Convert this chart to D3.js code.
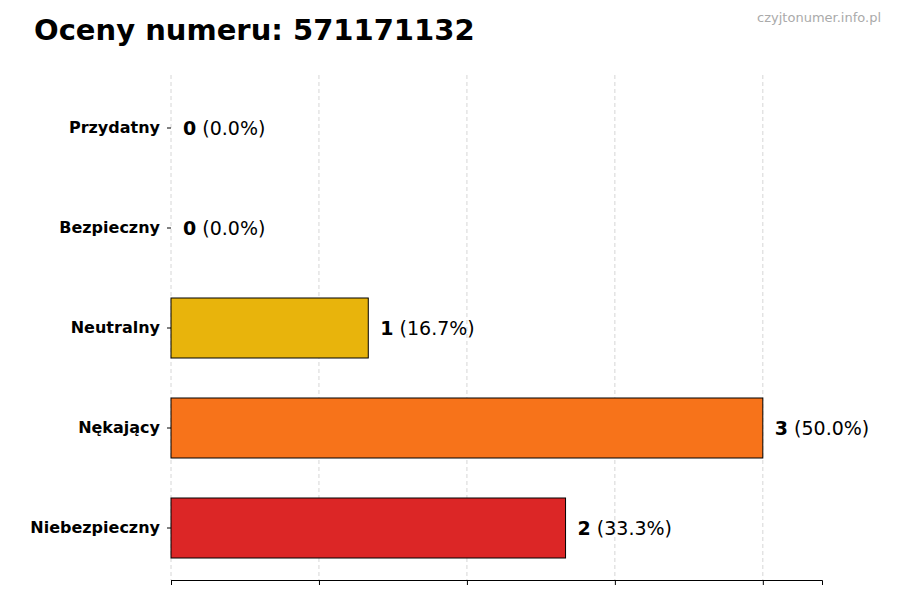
<!DOCTYPE html>
<html><head><meta charset="utf-8">
<script src="https://cdn.jsdelivr.net/npm/d3@7"></script>
<style>body{margin:0;background:#fff;font-family:"DejaVu Sans",sans-serif}</style>
</head><body><div id="vis"></div>
<script>
var categories = ["Przydatny", "Bezpieczny", "Neutralny", "Nękający", "Niebezpieczny"];
var values = [0, 0, 1, 3, 2];
var percents = ["0.0%", "0.0%", "16.7%", "50.0%", "33.3%"];
var colors = ["#2ca02c", "#1f9e4a", "#E8B40C", "#F7731A", "#DC2626"];
var xTicks = [0, 0.75, 1.5, 2.25, 3];

var width = 900, height = 600;
var svg = d3.select("#vis").append("svg").attr("width", width).attr("height", height);

var x = d3.scaleLinear().domain([0, 3.3]).range([171, 822]);
var y = d3.scaleBand().domain(categories).range([78, 578]).paddingInner(0.4).paddingOuter(0.2);

// grid
svg.append("g").selectAll("line").data(xTicks).join("line")
  .attr("x1", d => x(d)).attr("x2", d => x(d)).attr("y1", 75).attr("y2", 580)
  .attr("stroke", "#ccc").attr("stroke-dasharray", "4,3").attr("stroke-width", 0.8);

// bars
svg.append("g").selectAll("rect").data(categories).join("rect")
  .attr("x", x(0)).attr("y", d => y(d))
  .attr("width", (d, i) => x(values[i]) - x(0)).attr("height", y.bandwidth())
  .attr("fill", (d, i) => colors[i]).attr("stroke", "#000").attr("stroke-width", 1);

// value labels
var lab = svg.append("g").selectAll("text").data(categories).join("text")
  .attr("x", (d, i) => x(values[i]) + 12).attr("y", d => y(d) + y.bandwidth() / 2)
  .attr("dy", "0.35em").attr("font-size", 19);
lab.append("tspan").attr("font-weight", "bold").text((d, i) => values[i]);
lab.append("tspan").text((d, i) => " (" + percents[i] + ")");

// x axis
svg.append("g").attr("transform", "translate(0,580)")
  .call(d3.axisBottom(x).tickValues(xTicks).tickFormat("").tickSizeOuter(0).tickSize(5))
  .call(g => g.select(".domain").attr("stroke", "#000"));

// y axis
var ya = svg.append("g").attr("transform", "translate(171,0)")
  .call(d3.axisLeft(y).tickSize(4).tickPadding(7));
ya.select(".domain").remove();
ya.selectAll("text").attr("font-size", 16).attr("font-weight", "bold").attr("fill", "#000")
  .attr("font-family", "DejaVu Sans");

svg.append("text").attr("x", 34).attr("y", 40).attr("font-size", 29).attr("font-weight", "bold")
  .text("Oceny numeru: 571171132");
svg.append("text").attr("x", 881).attr("y", 22).attr("text-anchor", "end").attr("font-size", 13)
  .attr("fill", "#aaa").text("czyjtonumer.info.pl");
</script></body></html>
